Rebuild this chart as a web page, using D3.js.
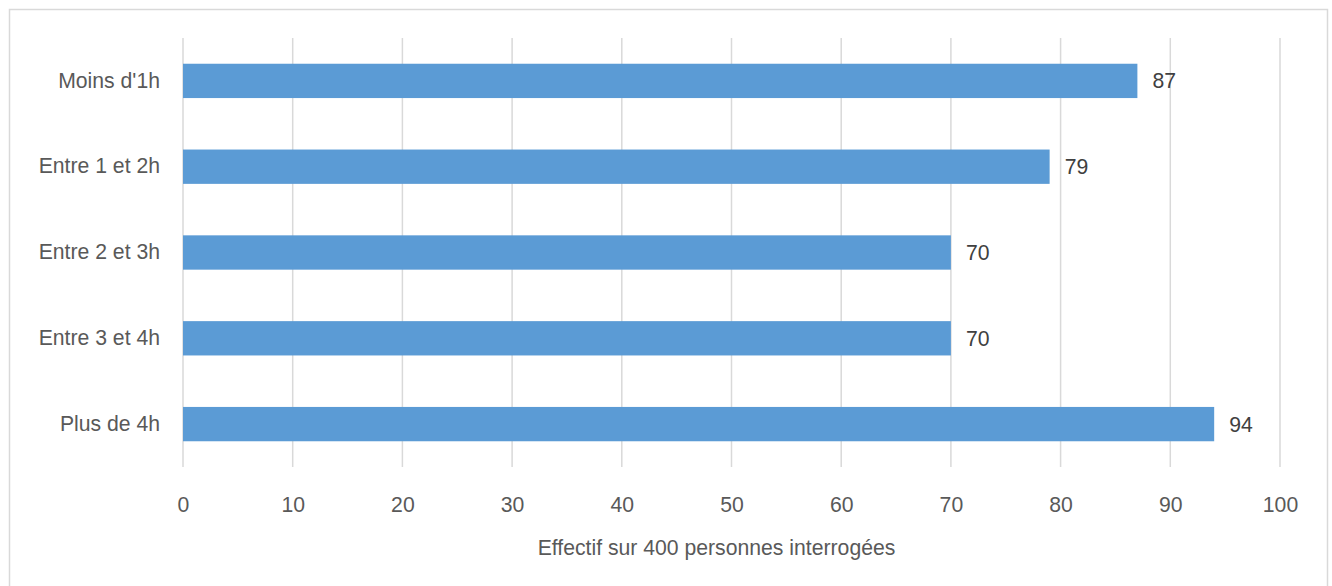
<!DOCTYPE html>
<html><head><meta charset="utf-8">
<script src="https://cdn.jsdelivr.net/npm/d3@7"></script>
<style>html,body{margin:0;padding:0;background:#fff;}svg{display:block;font-family:"Liberation Sans",Arial,sans-serif;}</style>
</head><body>
<svg id="c" width="1332" height="586"></svg>
<script>
const categories = ["Moins d'1h", "Entre 1 et 2h", "Entre 2 et 3h", "Entre 3 et 4h", "Plus de 4h"];
const values = [87, 79, 70, 70, 94];
const xTicks = [0, 10, 20, 30, 40, 50, 60, 70, 80, 90, 100];
const axisTitle = "Effectif sur 400 personnes interrogées";

const FS = 21.2;
const svg = d3.select("#c");
svg.append("rect").attr("x", 9.5).attr("y", 9.5).attr("width", 1318).attr("height", 600)
  .attr("fill", "#fff").attr("stroke", "#D9D9D9").attr("stroke-width", 1.5);

const pL = 183, pR = 1280, pT = 38, pB = 467;
const x = d3.scaleLinear().domain([0, 100]).range([pL, pR]);
const y = d3.scaleBand().domain(categories).range([pT, pB]).paddingInner(0.6).paddingOuter(0.3);

// gridlines
svg.append("g").selectAll("line").data(xTicks).join("line")
  .attr("x1", d => x(d)).attr("x2", d => x(d))
  .attr("y1", pT).attr("y2", pB)
  .attr("stroke", "#D9D9D9").attr("stroke-width", 1.5);

// bars
svg.append("g").selectAll("rect").data(values).join("rect")
  .attr("x", x(0)).attr("y", (d, i) => y(categories[i]))
  .attr("width", d => x(d) - x(0)).attr("height", y.bandwidth())
  .attr("fill", "#5B9BD5");

// value labels
svg.append("g").selectAll("text").data(values).join("text")
  .attr("x", d => x(d) + 15).attr("y", (d, i) => y(categories[i]) + y.bandwidth() / 2)
  .attr("dy", "0.35em").attr("font-size", FS).attr("fill", "#404040")
  .text(d => d);

// category labels
const ya = d3.axisLeft(y).tickSize(0).tickPadding(23);
const gy = svg.append("g").attr("transform", `translate(${pL},0)`).call(ya);
gy.select(".domain").remove();
gy.selectAll("text").attr("font-size", FS).attr("fill", "#595959").attr("font-family", "Liberation Sans, Arial, sans-serif");

// x axis
const xa = d3.axisBottom(x).tickValues(xTicks).tickSize(0).tickPadding(30);
const gx = svg.append("g").attr("transform", `translate(0,${pB})`).call(xa);
gx.select(".domain").remove();
gx.selectAll("text").attr("font-size", FS).attr("fill", "#595959").attr("font-family", "Liberation Sans, Arial, sans-serif");

svg.append("text").attr("x", (pL + pR) / 2 - 15).attr("y", 548).attr("dy", "0.35em")
  .attr("text-anchor", "middle").attr("font-size", FS).attr("fill", "#595959").text(axisTitle);
</script>
</body></html>
